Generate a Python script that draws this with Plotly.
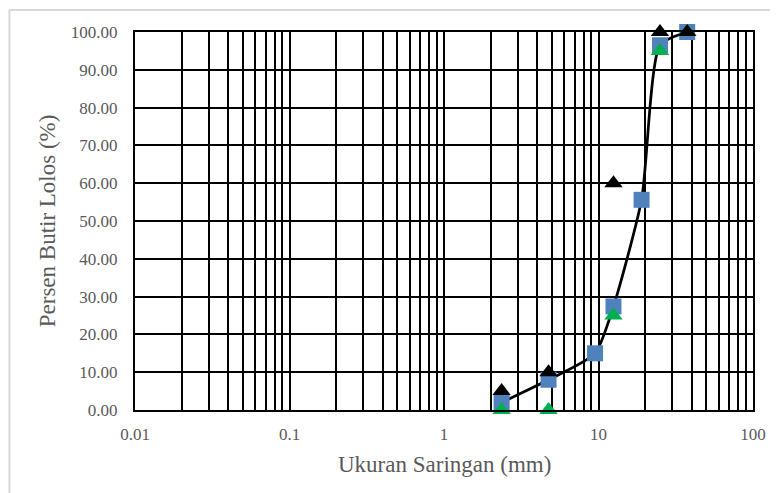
import plotly.graph_objects as go

# Data
sieve_blue = [2.36, 4.75, 9.5, 12.5, 19, 25, 37.5]
pass_blue = [2.0, 8.0, 15.0, 27.4, 55.6, 96.5, 100.0]

sieve_black = [2.36, 4.75, 12.5, 25, 37.5]
pass_black = [5.0, 10.0, 60.0, 100.0, 100.0]

sieve_green = [2.36, 4.75, 12.5, 25, 37.5]
pass_green = [0.0, 0.0, 25.0, 95.0, 100.0]

x_tick_vals = [0.01, 0.1, 1, 10, 100]
x_tick_text = ["0.01", "0.1", "1", "10", "100"]
y_tick_vals = [0, 10, 20, 30, 40, 50, 60, 70, 80, 90, 100]

# page has an 8px body margin; the figure starts at (8, 8)
OFF = 8
W, H = 778 - OFF, 493 - OFF
L, R, T, B = 135 - OFF, 23, 32 - OFF, 83

fig = go.Figure()
fig.add_trace(go.Scatter(
    x=sieve_blue, y=pass_blue, mode="lines+markers",
    line=dict(color="black", width=2.75, shape="spline", smoothing=0.6),
    marker=dict(symbol="square", size=16, color="#4F81BD", line=dict(width=0)),
    cliponaxis=False, showlegend=False))
fig.add_trace(go.Scatter(
    x=sieve_green, y=pass_green, mode="markers",
    marker=dict(symbol="triangle-up", size=16, color="#00B050", line=dict(width=0)),
    cliponaxis=False, showlegend=False))
fig.add_trace(go.Scatter(
    x=sieve_black, y=pass_black, mode="markers",
    marker=dict(symbol="triangle-up", size=16, color="black", line=dict(width=0)),
    cliponaxis=False, showlegend=False))

font_family = "Liberation Serif, Times New Roman, serif"
grey = "#595959"

fig.update_layout(
    width=W, height=H,
    margin=dict(l=L, r=R, t=T, b=B),
    paper_bgcolor="white", plot_bgcolor="white",
    font=dict(family=font_family, color=grey),
    xaxis=dict(
        type="log", range=[-2, 2],
        tickvals=x_tick_vals, ticktext=x_tick_text,
        tickfont=dict(size=17, color=grey),
        ticklabelstandoff=8,
        showgrid=True, gridcolor="black", gridwidth=1.8,
        minor=dict(dtick="D1", showgrid=True, gridcolor="black", gridwidth=1.8, ticks=""),
        showline=True, linecolor="black", linewidth=2, mirror=True,
        ticks="", zeroline=False,
    ),
    yaxis=dict(
        range=[0, 100], tickvals=y_tick_vals, tickformat=".2f",
        tickfont=dict(size=17, color=grey),
        ticklabelstandoff=12,
        showgrid=True, gridcolor="black", gridwidth=1.8,
        showline=True, linecolor="black", linewidth=2, mirror=True,
        ticks="", zeroline=False,
    ),
)

pw = W - L - R
ph = H - T - B
def px_x(p):
    return (p - OFF - L) / pw
def px_y(p):
    return (H - B - (p - OFF)) / ph

fig.add_annotation(text="Ukuran Saringan (mm)", xref="paper", yref="paper",
                   x=px_x(445), y=px_y(464), showarrow=False,
                   xanchor="center", yanchor="middle",
                   font=dict(size=23, color=grey, family=font_family))
fig.add_annotation(text="Persen Butir Lolos (%)", xref="paper", yref="paper",
                   x=px_x(47), y=px_y(221), showarrow=False, textangle=-90,
                   xanchor="center", yanchor="middle",
                   font=dict(size=23, color=grey, family=font_family))

fig.add_shape(type="line", xref="paper", yref="paper",
              x0=px_x(9), x1=px_x(9), y0=px_y(10), y1=px_y(493),
              line=dict(color="#D9D9D9", width=2))
fig.add_shape(type="line", xref="paper", yref="paper",
              x0=px_x(9), x1=px_x(778), y0=px_y(10), y1=px_y(10),
              line=dict(color="#D9D9D9", width=2))

fig.write_html("out.html")
